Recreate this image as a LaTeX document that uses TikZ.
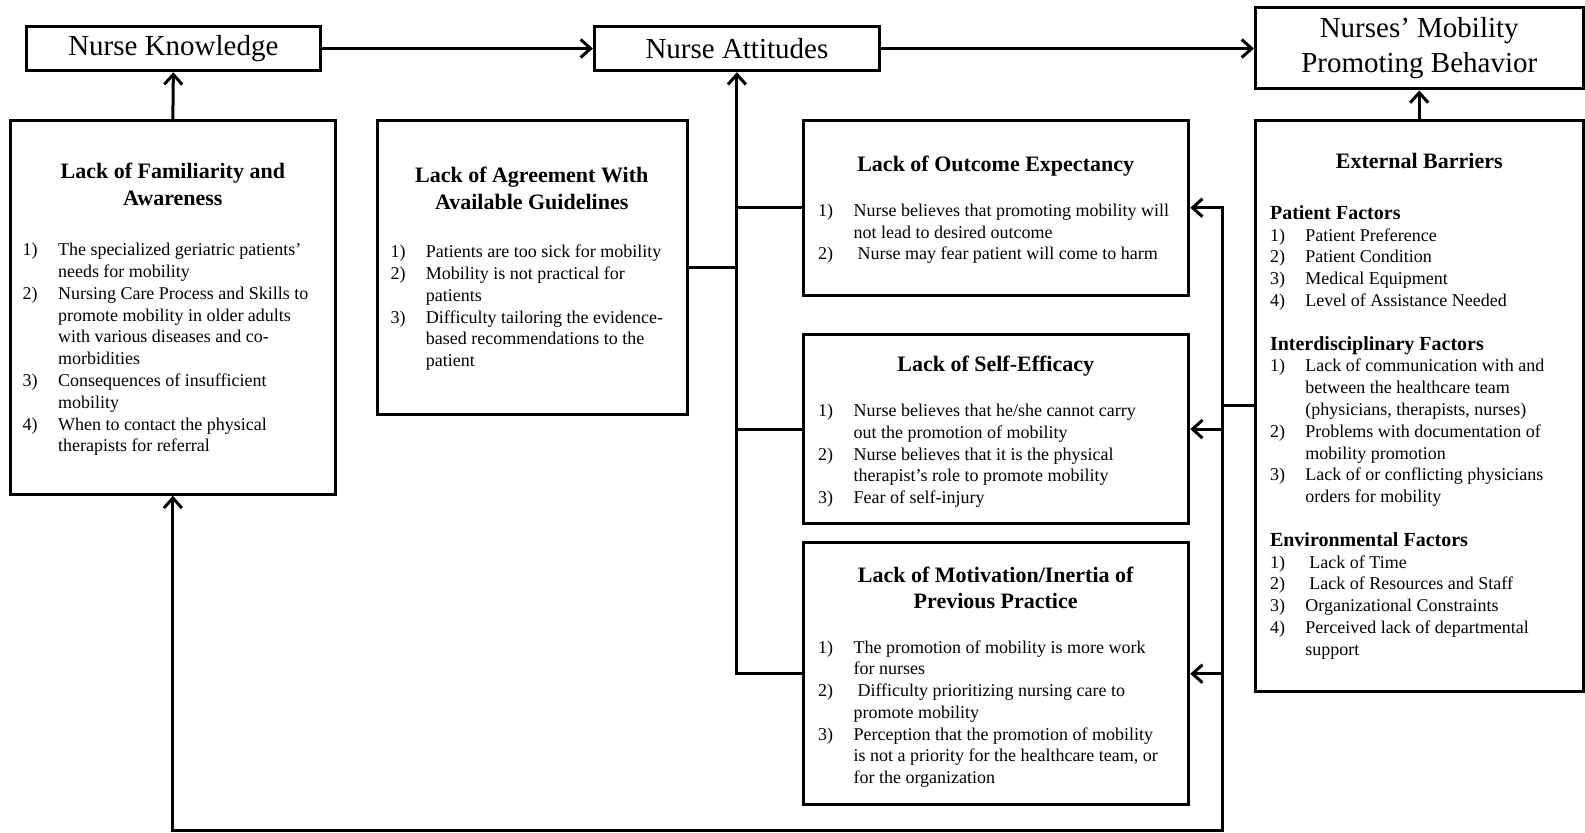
\documentclass[tikz,border=0pt]{standalone}
\usepackage{fontspec}
\setmainfont{Liberation Serif}
\usetikzlibrary{arrows.meta, positioning, fit}

\newcommand{\ttltab}[1]{\begin{tabular}[t]{@{}c@{}}#1\end{tabular}}
\newcommand{\lsttab}[1]{\begin{tabular}[t]{@{}p{17.7pt}@{}l@{}}#1\end{tabular}}
\newcommand{\subhd}[1]{\multicolumn{2}{@{}l@{}}{\fontsize{10}{10.9}\selectfont\bfseries #1}}

\begin{document}
\begin{tikzpicture}[x=0.5055pt, y=-0.5055pt,
  box/.style={rectangle, draw, line width=1.5pt, inner sep=0pt},
  topbox/.style={box, align=center, font=\fontsize{14.5}{17.7}\selectfont},
  ttl/.style={anchor=base, inner sep=0pt, font=\bfseries\fontsize{11}{13.1}\selectfont},
  lst/.style={anchor=base west, inner sep=0pt, font=\fontsize{9}{10.9}\selectfont},
  arrow/.style={-{Straight Barb[length=5pt, width=9pt]}, line width=1.5pt},
  link/.style={line width=1.5pt},
]
\useasboundingbox (0,0) rectangle (1568,824);

% top row
\node[topbox, minimum width=147.1pt, minimum height=22.24pt] (nk) at (171.5,48) {Nurse Knowledge};
\node[topbox, minimum width=142.55pt, minimum height=22.24pt] (na) at (729,48) {Nurse Attitudes};
\node[topbox, minimum width=163.8pt, minimum height=40.95pt] (nmpb) at (1404,47.5) {Nurses' Mobility\\Promoting Behavior};

% barrier boxes
\node[box, fit={(10,119) (332,489)}] (fam) {};
\node[box, fit={(373,119) (680,410)}] (agr) {};
\node[box, fit={(795,119) (1176,292)}] (outc) {};
\node[box, fit={(795,331) (1176,518)}] (eff) {};
\node[box, fit={(795,537) (1176,796)}] (mot) {};
\node[box, fit={(1242,119) (1566,684)}] (ext) {};

% titles
\node[ttl] (famT) at (171,177) {\ttltab{Lack of Familiarity and\\Awareness}};
\node[ttl] (agrT) at (526,181) {\ttltab{Lack of Agreement With\\Available Guidelines}};
\node[ttl] (outcT) at (985,170) {Lack of Outcome Expectancy};
\node[ttl] (effT) at (985,368) {Lack of Self-Efficacy};
\node[ttl] (motT) at (985,576) {\ttltab{Lack of Motivation/Inertia of\\Previous Practice}};
\node[ttl] (extT) at (1404,167) {External Barriers};

% lists
\node[lst] (famL) at (22,253) {\lsttab{%
1) & The specialized geriatric patients'\\
   & needs for mobility\\
2) & Nursing Care Process and Skills to\\
   & promote mobility in older adults\\
   & with various diseases and co-\\
   & morbidities\\
3) & Consequences of insufficient\\
   & mobility\\
4) & When to contact the physical\\
   & therapists for referral}};

\node[lst] (agrL) at (386,255) {\lsttab{%
1) & Patients are too sick for mobility\\
2) & Mobility is not practical for\\
   & patients\\
3) & Difficulty tailoring the evidence-\\
   & based recommendations to the\\
   & patient}};

\node[lst] (outcL) at (809,214) {\lsttab{%
1) & Nurse believes that promoting mobility will\\
   & not lead to desired outcome\\
2) & \hspace{2pt}Nurse may fear patient will come to harm}};

\node[lst] (effL) at (809,412) {\lsttab{%
1) & Nurse believes that he/she cannot carry\\
   & out the promotion of mobility\\
2) & Nurse believes that it is the physical\\
   & therapist's role to promote mobility\\
3) & Fear of self-injury}};

\node[lst] (motL) at (809,646) {\lsttab{%
1) & The promotion of mobility is more work\\
   & for nurses\\
2) & \hspace{2pt}Difficulty prioritizing nursing care to\\
   & promote mobility\\
3) & Perception that the promotion of mobility\\
   & is not a priority for the healthcare team, or\\
   & for the organization}};

\node[lst] (extL) at (1256,217) {\lsttab{%
\subhd{Patient Factors}\\
1) & Patient Preference\\
2) & Patient Condition\\
3) & Medical Equipment\\
4) & Level of Assistance Needed\\
\\
\subhd{Interdisciplinary Factors}\\
1) & Lack of communication with and\\
   & between the healthcare team\\
   & (physicians, therapists, nurses)\\
2) & Problems with documentation of\\
   & mobility promotion\\
3) & Lack of or conflicting physicians\\
   & orders for mobility\\
\\
\subhd{Environmental Factors}\\
1) & \hspace{2pt}Lack of Time\\
2) & \hspace{2pt}Lack of Resources and Staff\\
3) & Organizational Constraints\\
4) & Perceived lack of departmental\\
   & support}};

% top arrows
\draw[arrow] (nk.east) -- (na.west);
\draw[arrow] (na.east) -- (na.east -| nmpb.west);
\draw[arrow] (fam.north) -- (nk.south);
\draw[arrow] (ext.north) -- (nmpb.south);

% left bus into attitudes
\draw[arrow] (mot.west) -| (na.south);
\draw[link] (outc.west) -- (outc.west -| na.south);
\draw[link] (agr.east) -- (agr.east -| na.south);
\draw[link] (eff.west) -- (eff.west -| na.south);

% right bus from external barriers
\coordinate (busR) at (1209,822);
\draw[{Straight Barb[length=5pt, width=9pt]}-{Straight Barb[length=5pt, width=9pt]}, line width=1.5pt]
  (fam.south) |- (busR) |- (outc.east);
\draw[link] (ext.west) -- (ext.west -| busR);
\draw[arrow] (eff.east -| busR) -- (eff.east);
\draw[arrow] (mot.east -| busR) -- (mot.east);

\end{tikzpicture}
\end{document}
